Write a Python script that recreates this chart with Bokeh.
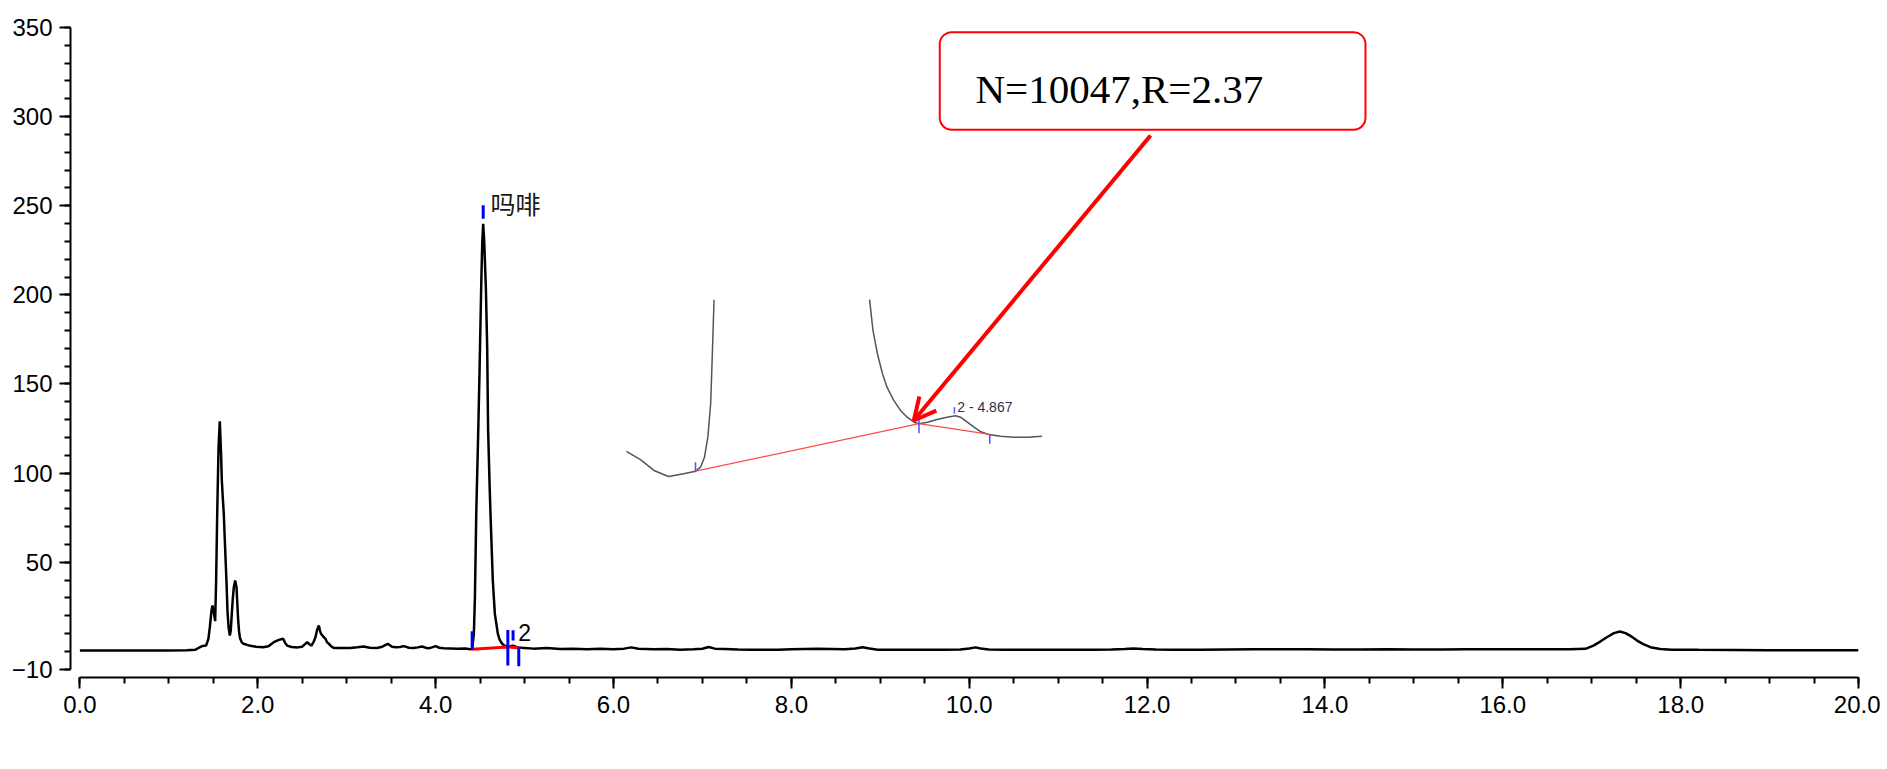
from bokeh.plotting import figure
from bokeh.models import (Range1d, LinearAxis, FixedTicker, SingleIntervalTicker,
                          PrintfTickFormatter, BoxAnnotation, Label, Arrow, OpenHead)
from bokeh.embed import file_html
from bokeh.resources import INLINE

# ---------------- data ----------------
trace_t = [0.00, 0.50, 1.00, 1.20, 1.30, 1.34, 1.38, 1.42, 1.445, 1.461, 1.48, 1.491, 1.505, 1.521,
           1.532, 1.544, 1.559, 1.573, 1.588, 1.596, 1.607, 1.618, 1.633, 1.648, 1.66, 1.672, 1.686,
           1.697, 1.708, 1.72, 1.731, 1.746, 1.761, 1.771, 1.78, 1.79, 1.80, 1.82, 1.84, 1.90, 1.98,
           2.06, 2.12, 2.18, 2.237, 2.286, 2.31, 2.33, 2.38, 2.45, 2.50, 2.556, 2.585, 2.604, 2.63,
           2.649, 2.667, 2.687, 2.70, 2.712, 2.74, 2.762, 2.78, 2.80, 2.83, 2.855, 2.95, 3.04, 3.12,
           3.19, 3.26, 3.34, 3.40, 3.462, 3.51, 3.55, 3.60, 3.642, 3.70, 3.755, 3.80, 3.849, 3.90,
           3.924, 3.96, 3.999, 4.04, 4.09, 4.17, 4.243, 4.33, 4.393, 4.411, 4.43, 4.442, 4.457, 4.48,
           4.495, 4.514, 4.525, 4.535, 4.546, 4.565, 4.58, 4.59, 4.606, 4.617, 4.643, 4.666, 4.70,
           4.72, 4.749, 4.78, 4.812, 4.84, 4.871, 4.90, 4.935, 4.97, 5.0, 5.1, 5.25, 5.4, 5.55, 5.7,
           5.85, 6.0, 6.12, 6.2, 6.28, 6.45, 6.6, 6.75, 6.9, 7.0, 7.07, 7.14, 7.25, 7.4, 7.55, 7.7,
           7.85, 8.0, 8.15, 8.3, 8.45, 8.6, 8.72, 8.8, 8.88, 8.97, 9.1, 9.3, 9.5, 9.7, 9.9, 10.0,
           10.07, 10.13, 10.22, 10.4, 10.6, 10.8, 11.0, 11.2, 11.4, 11.6, 11.75, 11.85, 11.95, 12.1,
           12.3, 12.6, 12.9, 13.2, 13.5, 13.8, 14.1, 14.4, 14.7, 15.0, 15.3, 15.6, 15.9, 16.2, 16.5,
           16.75, 16.93, 17.02, 17.1, 17.17, 17.25, 17.316, 17.38, 17.45, 17.51, 17.58, 17.66, 17.77,
           17.9, 18.2, 18.6, 19.0, 19.5, 20.0]
trace_v = [0.5, 0.5, 0.5, 0.6, 0.9, 2.0, 3.0, 3.3, 7.0, 13.5, 22.9, 25.7, 22.0, 16.9,
           40.0, 77.2, 114.5, 129.1, 110.0, 95.8, 86.0, 77.2, 58.0, 39.6, 22.0, 13.5, 8.9,
           12.0, 21.0, 30.0, 36.0, 39.7, 36.0, 26.0, 17.3, 11.0, 7.5, 5.0, 4.2, 3.3, 2.6,
           2.3, 2.8, 5.1, 6.4, 7.0, 4.5, 3.2, 2.4, 2.2, 2.6, 5.1, 3.8, 3.2, 5.5,
           7.9, 12.0, 14.5, 11.5, 9.8, 8.0, 7.0, 5.0, 4.2, 2.6, 1.9, 1.8, 1.9, 2.3,
           2.7, 2.0, 1.9, 2.6, 4.2, 2.6, 2.3, 2.4, 2.9, 2.0, 1.9, 2.2, 2.7, 1.8,
           1.75, 2.2, 2.9, 2.0, 1.75, 1.6, 1.4, 1.6, 1.2, 1.4, 9.8, 30.4, 77.2, 125.0,
           160.0, 208.0, 230.5, 239.9, 230.5, 204.0, 170.0, 125.0, 95.0, 77.2, 39.7, 21.0, 9.8,
           6.5, 4.2, 3.0, 2.6, 2.8, 3.2, 2.6, 2.2, 2.0, 1.9, 1.5, 1.8, 1.3, 1.5, 1.2,
           1.4, 1.2, 1.5, 2.2, 1.4, 1.2, 1.3, 0.9, 1.1, 1.4, 2.4, 1.5, 1.3, 1.0, 0.9, 0.8,
           0.9, 1.1, 1.3, 1.4, 1.3, 1.2, 1.6, 2.3, 1.6, 0.9, 0.8, 0.8, 0.8, 0.8, 1.0, 1.6,
           2.2, 1.6, 1.0, 0.9, 0.9, 0.9, 0.9, 0.9, 0.9, 1.0, 1.3, 1.6, 1.3, 1.0,
           0.8, 0.8, 1.0, 1.1, 1.2, 1.2, 1.0, 1.0, 1.1, 1.0, 1.0, 1.1, 1.1, 1.1, 1.2,
           1.2, 1.4, 3.2, 5.6, 7.9, 10.2, 11.1, 10.2, 8.2, 6.0, 4.0, 2.3, 1.3,
           0.9, 0.8, 0.7, 0.6, 0.6, 0.6]

# integration baseline (red) and peak markers (blue)
base_t = [4.411, 4.812, 4.935]
base_v = [1.2, 2.4, 2.0]
mark_t = [4.411, 4.812, 4.935, 4.871, 4.535]
mark_lo = [0.8, -8.0, -8.4, 6.0, 242.7]
mark_hi = [11.3, 12.0, 2.0, 11.8, 250.2]

peak_names = ["吗啡", "2"]
peak_label_t = [4.617, 4.928]

# inset: magnified view of the valley between the two peaks
inset_left_t = [4.288, 4.313, 4.337, 4.363, 4.390, 4.411, 4.420, 4.427, 4.433, 4.438, 4.441, 4.444]
inset_left_v = [1.09, 0.76, 0.33, 0.09, 0.20, 0.30, 0.46, 0.86, 1.66, 3.0, 4.99, 7.16]
inset_right_t = [4.721, 4.727, 4.735, 4.744, 4.752, 4.764, 4.776, 4.788, 4.800, 4.809, 4.824,
                 4.841, 4.859, 4.874, 4.883, 4.895, 4.907, 4.918, 4.933, 4.954, 4.978, 5.002, 5.028]
inset_right_v = [7.16, 5.93, 4.99, 4.2, 3.66, 3.13, 2.73, 2.46, 2.26, 2.2, 2.26,
                 2.37, 2.46, 2.52, 2.46, 2.26, 2.06, 1.89, 1.77, 1.70, 1.66, 1.66, 1.70]
inset_base_t = [4.411, 4.809, 4.935]
inset_base_v = [0.30, 2.2, 1.77]
inset_mark_t = [4.411, 4.809, 4.935, 4.872]
inset_mark_lo = [0.26, 1.82, 1.40, 2.60]
inset_mark_hi = [0.66, 2.36, 1.76, 2.86]

x_major_interval = 2.0
y_ticks = [-10, 50, 100, 150, 200, 250, 300, 350]
y_minor = list(range(-10, 351, 10))

# ---------------- figure ----------------
p = figure(width=1880, height=762, output_backend="svg", toolbar_location=None,
           x_range=Range1d(-0.1057, 20.0), y_range=Range1d(-14.7, 350.0),
           x_axis_location=None, y_axis_location=None,
           min_border_left=70, min_border_right=22, min_border_top=27, min_border_bottom=85)
p.outline_line_color = None
p.grid.grid_line_color = None
p.background_fill_color = "white"
p.border_fill_color = "white"

p.extra_x_ranges = {"inset_x": Range1d(3.2981, 6.4819)}
p.extra_y_ranges = {"inset_y": Range1d(-7.952, 18.048)}

xaxis = LinearAxis(ticker=SingleIntervalTicker(interval=x_major_interval, num_minor_ticks=4),
                   formatter=PrintfTickFormatter(format="%.1f"), bounds=(0, 20))
yaxis = LinearAxis(ticker=FixedTicker(ticks=y_ticks, minor_ticks=y_minor), bounds=(-10, 350))
for ax in (xaxis, yaxis):
    ax.axis_line_color = "black"
    ax.axis_line_width = 2
    ax.major_tick_line_color = "black"
    ax.major_tick_line_width = 2
    ax.minor_tick_line_color = "black"
    ax.minor_tick_line_width = 2
    ax.major_tick_in = 0
    ax.minor_tick_in = 0
    ax.major_tick_out = 11
    ax.minor_tick_out = 6
    ax.major_label_text_font = "Liberation Sans"
    ax.major_label_text_color = "black"
    ax.major_label_standoff = 7
xaxis.major_label_text_font_size = "24px"
yaxis.major_label_text_font_size = "24px"
p.add_layout(xaxis, "below")
p.add_layout(yaxis, "left")

# main trace
p.line(trace_t, trace_v, line_color="black", line_width=2.5)
p.line(base_t, base_v, line_color="red", line_width=3)
p.segment(x0=mark_t, y0=mark_lo, x1=mark_t, y1=mark_hi, line_color="#0000ee", line_width=3)

p.add_layout(Label(x=peak_label_t[0], y=251.5, text=peak_names[0], text_font="Noto Sans CJK SC",
                   text_font_size="25px", text_color="#1a1a1a", text_baseline="middle"))
p.add_layout(Label(x=peak_label_t[1], y=10.4, text=peak_names[1], text_font="Liberation Sans",
                   text_font_size="23px", text_color="black", text_baseline="alphabetic"))

# inset
rx = dict(x_range_name="inset_x", y_range_name="inset_y")
p.line(inset_left_t, inset_left_v, line_color="#555555", line_width=1.5, **rx)
p.line(inset_right_t, inset_right_v, line_color="#555555", line_width=1.5, **rx)
p.line(inset_base_t, inset_base_v, line_color="#ff4a4a", line_width=1.2, **rx)
p.segment(x0=inset_mark_t, y0=inset_mark_lo, x1=inset_mark_t, y1=inset_mark_hi,
          line_color="#5050ff", line_width=1.5, **rx)
p.add_layout(Label(x=4.877, y=2.87, text="2 - 4.867", text_font="Liberation Sans",
                   text_font_size="14px", text_color="#30304a", text_baseline="alphabetic", **rx))

# callout box + arrow
p.add_layout(BoxAnnotation(left=9.669, right=14.456, top=347.4, bottom=292.6,
                           fill_color="white", fill_alpha=1.0, line_color="red", line_alpha=1.0,
                           line_width=2, border_radius=12))
p.add_layout(Label(x=10.07, y=315.5, text="N=10047,R=2.37", text_font="Liberation Serif",
                   text_font_size="41px", text_color="black", text_baseline="alphabetic"))
p.add_layout(Arrow(end=OpenHead(size=22, line_color="red", line_width=4),
                   x_start=12.039, y_start=289.4, x_end=9.377, y_end=129.5,
                   line_color="red", line_width=4))

open("out.html", "w").write(file_html(p, INLINE))
